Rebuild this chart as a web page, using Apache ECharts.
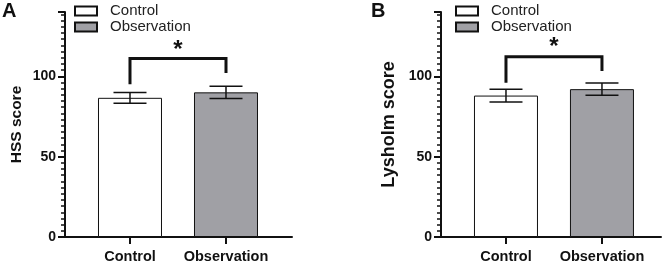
<!DOCTYPE html>
<html><head><meta charset="utf-8">
<script src="https://cdn.jsdelivr.net/npm/echarts@6/dist/echarts.min.js"></script>
<style>html,body{margin:0;padding:0;background:#fff}#c{width:671px;height:264px}</style>
</head><body><div id="c"></div>
<script>
const categories = ['Control', 'Observation'];
const hssMean = [86.6, 90.0];
const hssSD = [3.3, 3.8];
const lysMean = [88.0, 92.0];
const lysSD = [4.0, 3.8];
// bracket: [top, left leg end, right leg end, star level]
const hssBracket = [111, 95, 102, 116];
const lysBracket = [112.2, 96, 103.3, 118];
const yMax = 140;
const yInterval = 50;
const panelLetters = ['A', 'B'];
const yNames = ['HSS score', 'Lysholm score'];

const BLACK = '#111';
const GRAY = '#a0a0a5';
const FONT = 'Liberation Sans, Arial, sans-serif';

function errRender(params, api) {
  const x = api.value(0), m = api.value(1), s = api.value(2);
  const top = api.coord([x, m + s]), bot = api.coord([x, m - s]);
  const half = 16.5;
  const style = { stroke: BLACK, lineWidth: 1.5 };
  return { type: 'group', children: [
    { type: 'line', shape: { x1: top[0], y1: top[1], x2: bot[0], y2: bot[1] }, style },
    { type: 'line', shape: { x1: top[0] - half, y1: top[1], x2: top[0] + half, y2: top[1] }, style },
    { type: 'line', shape: { x1: bot[0] - half, y1: bot[1], x2: bot[0] + half, y2: bot[1] }, style }
  ]};
}
function bracketRender(params, api) {
  const x0 = api.value(0), x1 = api.value(1);
  const t = api.value(2), l = api.value(3), r = api.value(4), sy = api.value(5);
  const a = api.coord([x0, t]), b = api.coord([x1, t]);
  const la = api.coord([x0, l]), rb = api.coord([x1, r]);
  const st = api.coord([(x0 + x1) / 2, sy]);
  return { type: 'group', children: [
    { type: 'polyline', shape: { points: [la, a, b, rb] }, style: { stroke: BLACK, lineWidth: 3, fill: null, lineJoin: 'miter' } },
    { type: 'text', x: st[0], y: st[1], style: { text: '*', fontSize: 24, fontWeight: 'bold', fontFamily: FONT, fill: BLACK, align: 'center', verticalAlign: 'middle' } }
  ]};
}

const grids = [
  { left: 65, top: 12, width: 227, height: 226 },
  { left: 441, top: 12, width: 220, height: 226 }
];
const xRanges = [[-0.677, 1.6875], [-0.677, 1.615]];
const means = [hssMean, lysMean];
const sds = [hssSD, lysSD];
const brackets = [hssBracket, lysBracket];
const nameGaps = [40, 43];
const nameSizes = [15.5, 18];

const xAxes = [], yAxes = [], series = [];
for (let p = 0; p < 2; p++) {
  xAxes.push({
    type: 'value', gridIndex: p, min: xRanges[p][0], max: xRanges[p][1],
    splitLine: { show: false },
    axisLine: { show: true, onZero: false, lineStyle: { color: BLACK, width: 2 } },
    axisTick: { show: true, customValues: [0, 1], length: 7, lineStyle: { color: BLACK, width: 2 } },
    axisLabel: { customValues: [0, 1], formatter: v => categories[Math.round(v)], fontSize: 14.5, fontWeight: 'bold', color: BLACK, fontFamily: FONT, margin: 12 }
  });
  yAxes.push({
    type: 'value', gridIndex: p, min: 0, max: yMax, interval: yInterval,
    name: yNames[p], nameLocation: 'middle', nameGap: nameGaps[p],
    nameTextStyle: { fontSize: nameSizes[p], fontWeight: 'bold', color: BLACK, fontFamily: FONT },
    splitLine: { show: false },
    axisLine: { show: true, onZero: false, lineStyle: { color: BLACK, width: 2 } },
    axisTick: { show: true, length: 7, lineStyle: { color: BLACK, width: 2 } },
    minorTick: { show: true, splitNumber: 13, length: 4, lineStyle: { color: BLACK, width: 1.5 } },
    axisLabel: { fontSize: 14, fontWeight: 'bold', color: BLACK, fontFamily: FONT, margin: 9, showMaxLabel: false,
      formatter: v => (v % yInterval === 0 ? String(v) : '') }
  });
  series.push({
    name: categories[0], type: 'bar', xAxisIndex: p, yAxisIndex: p, barWidth: 64, barGap: '-100%',
    data: [[0, means[p][0]]], itemStyle: { color: '#ffffff', borderColor: BLACK, borderWidth: 1 }
  });
  series.push({
    name: categories[1], type: 'bar', xAxisIndex: p, yAxisIndex: p, barWidth: 64, barGap: '-100%',
    data: [[1, means[p][1]]], itemStyle: { color: GRAY, borderColor: BLACK, borderWidth: 1 }
  });
  series.push({
    type: 'custom', xAxisIndex: p, yAxisIndex: p, z: 5, renderItem: errRender,
    encode: { x: 0, y: 1 },
    data: [[0, means[p][0], sds[p][0]], [1, means[p][1], sds[p][1]]]
  });
  series.push({
    type: 'custom', xAxisIndex: p, yAxisIndex: p, z: 5, renderItem: bracketRender,
    encode: { x: [0, 1], y: [2, 5] },
    data: [[0, 1].concat(brackets[p])]
  });
}

const legendLefts = [74, 455];
const option = {
  animation: false,
  backgroundColor: '#fff',
  title: panelLetters.map((t, i) => ({ text: t, left: i === 0 ? 2 : 371, top: 1, padding: 0,
    textStyle: { fontSize: 20, fontWeight: 'bold', color: BLACK, fontFamily: FONT } })),
  legend: legendLefts.map(l => ({
    data: categories, orient: 'vertical', left: l, top: 3, padding: 0, itemGap: 0,
    icon: 'rect', itemWidth: 22, itemHeight: 9, selectedMode: false,
    textStyle: { fontSize: 15, color: '#222', fontFamily: FONT, lineHeight: 16, padding: [0, 0, 0, 8] }
  })),
  grid: grids,
  xAxis: xAxes,
  yAxis: yAxes,
  series
};
const chart = echarts.init(document.getElementById('c'), null, { renderer: 'canvas' });
chart.setOption(option);
</script>
</body></html>
